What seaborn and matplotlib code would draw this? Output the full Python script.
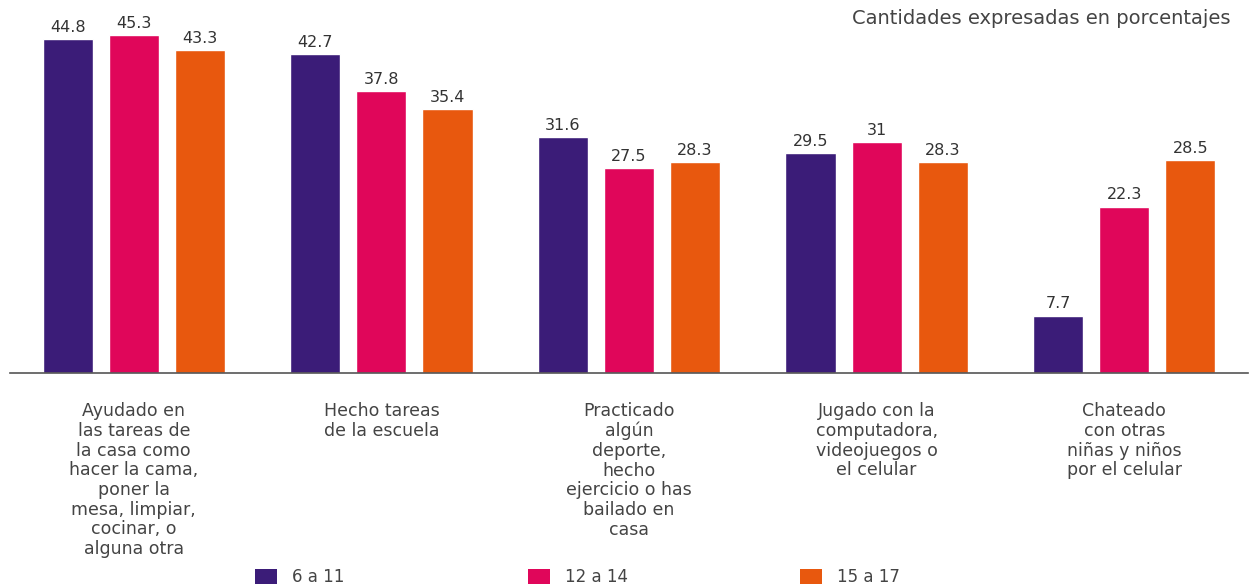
import numpy as np
import pandas as pd
import matplotlib
matplotlib.use('Agg')
import matplotlib.pyplot as plt
import seaborn as sns
from matplotlib.patches import Patch

# Datos (porcentajes)
categorias = [
    'Ayudado en\nlas tareas de\nla casa como\nhacer la cama,\nponer la\nmesa, limpiar,\ncocinar, o\nalguna otra',
    'Hecho tareas\nde la escuela',
    'Practicado\nalgún\ndeporte,\nhecho\nejercicio o has\nbailado en\ncasa',
    'Jugado con la\ncomputadora,\nvideojuegos o\nel celular',
    'Chateado\ncon otras\nniñas y niños\npor el celular',
]
grupos = ['6 a 11', '12 a 14', '15 a 17']
edad_6_11 = [44.8, 42.7, 31.6, 29.5, 7.7]
edad_12_14 = [45.3, 37.8, 27.5, 31.0, 22.3]
edad_15_17 = [43.3, 35.4, 28.3, 28.3, 28.5]
colores = ['#3b1c78', '#e0065a', '#e8580e']

filas = []
for serie, valores in zip(grupos, [edad_6_11, edad_12_14, edad_15_17]):
    for cat, v in zip(categorias, valores):
        filas.append({'categoria': cat, 'grupo': serie, 'valor': v})
df = pd.DataFrame(filas)

sns.set_theme(style='white')
plt.rcParams['font.family'] = ['DejaVu Sans']

fig = plt.figure(figsize=(12.51, 5.88), dpi=100)
ax = fig.add_axes([10 / 1251, 215 / 588, 1238 / 1251, 373 / 588])

sns.barplot(data=df, x='categoria', y='valor', hue='grupo', order=categorias,
            hue_order=grupos, palette=colores, width=0.8, gap=0.24,
            saturation=1, legend=False, ax=ax)

# Etiquetas de valor encima de cada barra
for cont in ax.containers:
    etiquetas = [f'{v:g}' for v in cont.datavalues]
    ax.bar_label(cont, labels=etiquetas, padding=3, fontsize=11.5, color='#333333')

ax.set_xlim(-0.5, 4.5)
ax.set_ylim(0, 50)
ax.set_xlabel('')
ax.set_ylabel('')
ax.set_yticks([])

for lado in ['top', 'left', 'right']:
    ax.spines[lado].set_visible(False)
ax.spines['bottom'].set_color('#555555')
ax.spines['bottom'].set_linewidth(1.2)

ax.set_xticks(range(len(categorias)))
ax.set_xticklabels(categorias, fontsize=12.5, color='#444444', linespacing=1.12)
ax.tick_params(axis='x', which='major', length=0, pad=21)
ax.set_xticks(np.arange(-0.5, 5.0, 1.0), minor=True)
ax.tick_params(axis='x', which='minor', direction='in', length=6, width=1,
               color='#555555')

fig.text(1230 / 1251, 1 - 18 / 588, 'Cantidades expresadas en porcentajes',
         ha='right', va='center', fontsize=14, color='#444444')

# Leyenda: una entrada por grupo, repartidas a lo ancho como en el original
x_leyenda = [255, 528, 800]
for c, etiqueta, xl in zip(colores, grupos, x_leyenda):
    ley = fig.legend([Patch(facecolor=c, edgecolor='none')], [etiqueta],
                     loc='center left', bbox_to_anchor=(xl / 1251, 1 - 577 / 588),
                     frameon=False, fontsize=12, borderpad=0, borderaxespad=0,
                     handlelength=1.3, handleheight=1.0, handletextpad=0.9,
                     labelcolor='#444444')

plt.savefig('out.png', dpi=100)
plt.close()
